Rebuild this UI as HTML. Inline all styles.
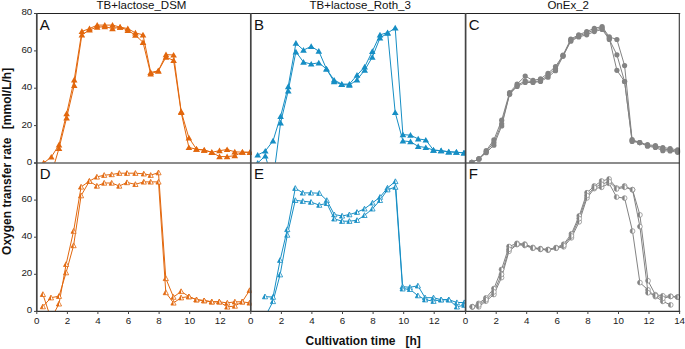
<!DOCTYPE html>
<html><head><meta charset="utf-8"><style>
html,body{margin:0;padding:0;background:#fff;width:685px;height:349px;overflow:hidden}
svg{display:block}
</style></head><body>
<svg width="685" height="349" viewBox="0 0 685 349">
<defs><clipPath id="cp0"><rect x="36.8" y="9.5" width="215.0" height="153.5"/></clipPath><clipPath id="cp1"><rect x="250.8" y="9.5" width="215.0" height="153.5"/></clipPath><clipPath id="cp2"><rect x="465.6" y="9.5" width="215.0" height="153.5"/></clipPath><clipPath id="cp3"><rect x="36.8" y="159.0" width="215.0" height="152.4"/></clipPath><clipPath id="cp4"><rect x="250.8" y="159.0" width="215.0" height="152.4"/></clipPath><clipPath id="cp5"><rect x="465.6" y="159.0" width="215.0" height="152.4"/></clipPath></defs>
<rect width="685" height="349" fill="#fff"/>
<g clip-path="url(#cp0)">
<polyline points="43.7,163.0 51.3,157.0 59.0,144.9 66.6,113.7 74.2,79.8 81.9,31.4 89.5,28.6 97.2,25.1 104.8,25.1 112.5,25.1 120.1,27.1 127.8,28.6 135.4,32.9 143.0,34.8 150.7,72.4 158.3,70.9 166.0,54.6 173.6,55.0 181.2,111.6 188.9,137.8 196.5,149.2 204.2,150.1 211.8,152.3 219.5,150.7 227.1,149.5 234.8,151.8 242.4,152.2 250.0,152.3" fill="none" stroke="#E2670D" stroke-width="1"/>
<polyline points="43.7,163.0 51.3,174.2 59.0,148.4 66.6,117.8 74.2,85.4 81.9,34.8 89.5,29.9 97.2,27.1 104.8,26.6 112.5,28.6 120.1,27.1 127.8,30.3 135.4,35.2 143.0,42.3 150.7,73.9 158.3,70.9 166.0,57.2 173.6,60.4 181.2,112.5 188.9,147.5 196.5,149.2 204.2,150.1 211.8,152.3 219.5,156.6 227.1,156.6 234.8,155.7 242.4,152.2 250.0,152.3" fill="none" stroke="#E2670D" stroke-width="1"/>
<path d="M40.4,165.6L43.7,159.9L47.0,165.6Z" fill="#E2670D"/>
<path d="M48.0,159.6L51.3,153.9L54.6,159.6Z" fill="#E2670D"/>
<path d="M55.7,147.5L59.0,141.8L62.3,147.5Z" fill="#E2670D"/>
<path d="M63.3,116.3L66.6,110.6L69.9,116.3Z" fill="#E2670D"/>
<path d="M71.0,82.4L74.2,76.7L77.5,82.4Z" fill="#E2670D"/>
<path d="M78.6,34.0L81.9,28.3L85.2,34.0Z" fill="#E2670D"/>
<path d="M86.2,31.2L89.5,25.5L92.8,31.2Z" fill="#E2670D"/>
<path d="M93.9,27.7L97.2,22.0L100.5,27.7Z" fill="#E2670D"/>
<path d="M101.5,27.7L104.8,22.0L108.1,27.7Z" fill="#E2670D"/>
<path d="M109.2,27.7L112.5,22.0L115.8,27.7Z" fill="#E2670D"/>
<path d="M116.8,29.7L120.1,24.0L123.4,29.7Z" fill="#E2670D"/>
<path d="M124.5,31.2L127.8,25.5L131.1,31.2Z" fill="#E2670D"/>
<path d="M132.1,35.5L135.4,29.8L138.7,35.5Z" fill="#E2670D"/>
<path d="M139.7,37.4L143.0,31.7L146.3,37.4Z" fill="#E2670D"/>
<path d="M147.4,75.0L150.7,69.3L154.0,75.0Z" fill="#E2670D"/>
<path d="M155.0,73.5L158.3,67.8L161.6,73.5Z" fill="#E2670D"/>
<path d="M162.7,57.2L166.0,51.5L169.3,57.2Z" fill="#E2670D"/>
<path d="M170.3,57.6L173.6,51.9L176.9,57.6Z" fill="#E2670D"/>
<path d="M177.9,114.2L181.2,108.5L184.6,114.2Z" fill="#E2670D"/>
<path d="M185.6,140.4L188.9,134.7L192.2,140.4Z" fill="#E2670D"/>
<path d="M193.2,151.8L196.5,146.1L199.8,151.8Z" fill="#E2670D"/>
<path d="M200.9,152.7L204.2,147.0L207.5,152.7Z" fill="#E2670D"/>
<path d="M208.5,154.9L211.8,149.2L215.1,154.9Z" fill="#E2670D"/>
<path d="M216.2,153.3L219.5,147.6L222.8,153.3Z" fill="#E2670D"/>
<path d="M223.8,152.1L227.1,146.4L230.4,152.1Z" fill="#E2670D"/>
<path d="M231.4,154.4L234.8,148.7L238.1,154.4Z" fill="#E2670D"/>
<path d="M239.1,154.8L242.4,149.1L245.7,154.8Z" fill="#E2670D"/>
<path d="M246.7,154.9L250.0,149.2L253.3,154.9Z" fill="#E2670D"/>
<path d="M40.4,165.6L43.7,159.9L47.0,165.6Z" fill="#E2670D"/>
<path d="M48.0,176.8L51.3,171.1L54.6,176.8Z" fill="#E2670D"/>
<path d="M55.7,151.0L59.0,145.3L62.3,151.0Z" fill="#E2670D"/>
<path d="M63.3,120.4L66.6,114.7L69.9,120.4Z" fill="#E2670D"/>
<path d="M71.0,88.0L74.2,82.3L77.5,88.0Z" fill="#E2670D"/>
<path d="M78.6,37.4L81.9,31.7L85.2,37.4Z" fill="#E2670D"/>
<path d="M86.2,32.5L89.5,26.8L92.8,32.5Z" fill="#E2670D"/>
<path d="M93.9,29.7L97.2,24.0L100.5,29.7Z" fill="#E2670D"/>
<path d="M101.5,29.2L104.8,23.5L108.1,29.2Z" fill="#E2670D"/>
<path d="M109.2,31.2L112.5,25.5L115.8,31.2Z" fill="#E2670D"/>
<path d="M116.8,29.7L120.1,24.0L123.4,29.7Z" fill="#E2670D"/>
<path d="M124.5,32.9L127.8,27.2L131.1,32.9Z" fill="#E2670D"/>
<path d="M132.1,37.8L135.4,32.1L138.7,37.8Z" fill="#E2670D"/>
<path d="M139.7,44.9L143.0,39.2L146.3,44.9Z" fill="#E2670D"/>
<path d="M147.4,76.5L150.7,70.8L154.0,76.5Z" fill="#E2670D"/>
<path d="M155.0,73.5L158.3,67.8L161.6,73.5Z" fill="#E2670D"/>
<path d="M162.7,59.8L166.0,54.1L169.3,59.8Z" fill="#E2670D"/>
<path d="M170.3,63.0L173.6,57.3L176.9,63.0Z" fill="#E2670D"/>
<path d="M177.9,115.1L181.2,109.4L184.6,115.1Z" fill="#E2670D"/>
<path d="M185.6,150.1L188.9,144.4L192.2,150.1Z" fill="#E2670D"/>
<path d="M193.2,151.8L196.5,146.1L199.8,151.8Z" fill="#E2670D"/>
<path d="M200.9,152.7L204.2,147.0L207.5,152.7Z" fill="#E2670D"/>
<path d="M208.5,154.9L211.8,149.2L215.1,154.9Z" fill="#E2670D"/>
<path d="M216.2,159.2L219.5,153.5L222.8,159.2Z" fill="#E2670D"/>
<path d="M223.8,159.2L227.1,153.5L230.4,159.2Z" fill="#E2670D"/>
<path d="M231.4,158.3L234.8,152.6L238.1,158.3Z" fill="#E2670D"/>
<path d="M239.1,154.8L242.4,149.1L245.7,154.8Z" fill="#E2670D"/>
<path d="M246.7,154.9L250.0,149.2L253.3,154.9Z" fill="#E2670D"/>
</g>
<g clip-path="url(#cp1)">
<polyline points="257.7,155.0 265.3,151.0 273.0,140.9 280.6,116.3 288.2,86.6 295.9,43.2 303.5,50.1 311.2,46.4 318.8,51.2 326.5,69.0 334.1,80.0 341.8,84.1 349.4,84.1 357.0,75.2 364.7,66.9 372.3,51.4 380.0,34.8 387.6,32.6 395.2,112.5 402.9,140.9 410.5,141.7 418.2,146.4 425.8,147.5 433.5,150.1 441.1,150.7 448.8,151.8 456.4,152.2 464.0,152.9" fill="none" stroke="#168EC4" stroke-width="1"/>
<polyline points="257.7,163.0 265.3,155.9 273.0,181.3 280.6,122.8 288.2,90.9 295.9,51.8 303.5,62.1 311.2,64.0 318.8,62.8 326.5,69.0 334.1,81.7 341.8,84.5 349.4,85.1 357.0,79.8 364.7,70.1 372.3,57.2 380.0,38.0 387.6,33.1 395.2,27.9 402.9,134.6 410.5,135.2 418.2,138.9 425.8,140.0 433.5,150.1 441.1,150.7 448.8,151.8 456.4,152.2 464.0,152.9" fill="none" stroke="#168EC4" stroke-width="1"/>
<path d="M254.4,157.6L257.7,151.9L261.0,157.6Z" fill="#168EC4"/>
<path d="M262.0,153.6L265.3,147.9L268.6,153.6Z" fill="#168EC4"/>
<path d="M269.7,143.5L273.0,137.8L276.3,143.5Z" fill="#168EC4"/>
<path d="M277.3,118.9L280.6,113.2L283.9,118.9Z" fill="#168EC4"/>
<path d="M284.9,89.2L288.2,83.5L291.6,89.2Z" fill="#168EC4"/>
<path d="M292.6,45.8L295.9,40.1L299.2,45.8Z" fill="#168EC4"/>
<path d="M300.2,52.7L303.5,47.0L306.8,52.7Z" fill="#168EC4"/>
<path d="M307.9,49.0L311.2,43.3L314.5,49.0Z" fill="#168EC4"/>
<path d="M315.5,53.8L318.8,48.1L322.1,53.8Z" fill="#168EC4"/>
<path d="M323.2,71.6L326.5,65.9L329.8,71.6Z" fill="#168EC4"/>
<path d="M330.8,82.6L334.1,76.9L337.4,82.6Z" fill="#168EC4"/>
<path d="M338.4,86.7L341.8,81.0L345.1,86.7Z" fill="#168EC4"/>
<path d="M346.1,86.7L349.4,81.0L352.7,86.7Z" fill="#168EC4"/>
<path d="M353.7,77.8L357.0,72.1L360.3,77.8Z" fill="#168EC4"/>
<path d="M361.4,69.5L364.7,63.8L368.0,69.5Z" fill="#168EC4"/>
<path d="M369.0,54.0L372.3,48.3L375.6,54.0Z" fill="#168EC4"/>
<path d="M376.7,37.4L380.0,31.7L383.3,37.4Z" fill="#168EC4"/>
<path d="M384.3,35.2L387.6,29.5L390.9,35.2Z" fill="#168EC4"/>
<path d="M391.9,115.1L395.2,109.4L398.6,115.1Z" fill="#168EC4"/>
<path d="M399.6,143.5L402.9,137.8L406.2,143.5Z" fill="#168EC4"/>
<path d="M407.2,144.3L410.5,138.6L413.8,144.3Z" fill="#168EC4"/>
<path d="M414.9,149.0L418.2,143.3L421.5,149.0Z" fill="#168EC4"/>
<path d="M422.5,150.1L425.8,144.4L429.1,150.1Z" fill="#168EC4"/>
<path d="M430.2,152.7L433.5,147.0L436.8,152.7Z" fill="#168EC4"/>
<path d="M437.8,153.3L441.1,147.6L444.4,153.3Z" fill="#168EC4"/>
<path d="M445.4,154.4L448.8,148.7L452.1,154.4Z" fill="#168EC4"/>
<path d="M453.1,154.8L456.4,149.1L459.7,154.8Z" fill="#168EC4"/>
<path d="M460.7,155.5L464.0,149.8L467.3,155.5Z" fill="#168EC4"/>
<path d="M254.4,165.6L257.7,159.9L261.0,165.6Z" fill="#168EC4"/>
<path d="M262.0,158.5L265.3,152.8L268.6,158.5Z" fill="#168EC4"/>
<path d="M269.7,183.9L273.0,178.2L276.3,183.9Z" fill="#168EC4"/>
<path d="M277.3,125.4L280.6,119.7L283.9,125.4Z" fill="#168EC4"/>
<path d="M284.9,93.5L288.2,87.8L291.6,93.5Z" fill="#168EC4"/>
<path d="M292.6,54.4L295.9,48.7L299.2,54.4Z" fill="#168EC4"/>
<path d="M300.2,64.7L303.5,59.0L306.8,64.7Z" fill="#168EC4"/>
<path d="M307.9,66.6L311.2,60.9L314.5,66.6Z" fill="#168EC4"/>
<path d="M315.5,65.4L318.8,59.7L322.1,65.4Z" fill="#168EC4"/>
<path d="M323.2,71.6L326.5,65.9L329.8,71.6Z" fill="#168EC4"/>
<path d="M330.8,84.3L334.1,78.6L337.4,84.3Z" fill="#168EC4"/>
<path d="M338.4,87.1L341.8,81.4L345.1,87.1Z" fill="#168EC4"/>
<path d="M346.1,87.7L349.4,82.0L352.7,87.7Z" fill="#168EC4"/>
<path d="M353.7,82.4L357.0,76.7L360.3,82.4Z" fill="#168EC4"/>
<path d="M361.4,72.7L364.7,67.0L368.0,72.7Z" fill="#168EC4"/>
<path d="M369.0,59.8L372.3,54.1L375.6,59.8Z" fill="#168EC4"/>
<path d="M376.7,40.6L380.0,34.9L383.3,40.6Z" fill="#168EC4"/>
<path d="M384.3,35.7L387.6,30.0L390.9,35.7Z" fill="#168EC4"/>
<path d="M391.9,30.5L395.2,24.8L398.6,30.5Z" fill="#168EC4"/>
<path d="M399.6,137.2L402.9,131.5L406.2,137.2Z" fill="#168EC4"/>
<path d="M407.2,137.8L410.5,132.1L413.8,137.8Z" fill="#168EC4"/>
<path d="M414.9,141.5L418.2,135.8L421.5,141.5Z" fill="#168EC4"/>
<path d="M422.5,142.6L425.8,136.9L429.1,142.6Z" fill="#168EC4"/>
<path d="M430.2,152.7L433.5,147.0L436.8,152.7Z" fill="#168EC4"/>
<path d="M437.8,153.3L441.1,147.6L444.4,153.3Z" fill="#168EC4"/>
<path d="M445.4,154.4L448.8,148.7L452.1,154.4Z" fill="#168EC4"/>
<path d="M453.1,154.8L456.4,149.1L459.7,154.8Z" fill="#168EC4"/>
<path d="M460.7,155.5L464.0,149.8L467.3,155.5Z" fill="#168EC4"/>
</g>
<g clip-path="url(#cp2)">
<polyline points="471.7,162.4 478.9,158.9 486.2,150.7 493.9,139.8 501.7,120.2 509.6,92.5 517.1,84.1 525.2,76.1 533.0,80.4 540.5,78.9 548.0,73.3 555.5,66.6 563.0,55.2 570.8,39.1 578.7,34.8 586.7,31.6 594.3,28.3 602.1,26.6 609.3,36.9 616.9,39.5 624.6,65.6 632.1,139.5 639.7,142.6 647.5,144.7 655.4,145.6 662.8,147.5 670.1,148.6 677.6,149.9" fill="none" stroke="#838383" stroke-width="1"/>
<polyline points="471.7,162.4 478.9,158.9 486.2,152.7 493.9,145.2 501.7,126.0 509.6,94.2 517.1,86.4 525.2,82.5 533.0,82.5 540.5,81.5 548.0,77.2 555.5,70.7 563.0,56.3 570.8,41.2 578.7,36.9 586.7,34.8 594.3,31.6 602.1,29.4 609.3,39.5 616.9,54.8 624.6,81.5 632.1,140.6 639.7,142.6 647.5,146.2 655.4,147.5 662.8,150.7 670.1,151.0 677.6,152.3" fill="none" stroke="#838383" stroke-width="1"/>
<polyline points="471.7,162.4 478.9,158.9 486.2,151.8 493.9,142.4 501.7,123.8 509.6,93.9 517.1,85.4 525.2,80.8 533.0,81.7 540.5,80.8 548.0,75.2 555.5,68.6 563.0,55.7 570.8,40.2 578.7,35.9 586.7,33.1 594.3,29.9 602.1,28.1 609.3,38.2 616.9,70.3 624.6,81.5 632.1,141.5 639.7,142.6 647.5,145.4 655.4,146.6 662.8,149.0 670.1,149.9 677.6,151.2" fill="none" stroke="#838383" stroke-width="1"/>
<circle cx="471.7" cy="162.4" r="2.6" fill="#838383"/>
<circle cx="478.9" cy="158.9" r="2.6" fill="#838383"/>
<circle cx="486.2" cy="150.7" r="2.6" fill="#838383"/>
<circle cx="493.9" cy="139.8" r="2.6" fill="#838383"/>
<circle cx="501.7" cy="120.2" r="2.6" fill="#838383"/>
<circle cx="509.6" cy="92.5" r="2.6" fill="#838383"/>
<circle cx="517.1" cy="84.1" r="2.6" fill="#838383"/>
<circle cx="525.2" cy="76.1" r="2.6" fill="#838383"/>
<circle cx="533.0" cy="80.4" r="2.6" fill="#838383"/>
<circle cx="540.5" cy="78.9" r="2.6" fill="#838383"/>
<circle cx="548.0" cy="73.3" r="2.6" fill="#838383"/>
<circle cx="555.5" cy="66.6" r="2.6" fill="#838383"/>
<circle cx="563.0" cy="55.2" r="2.6" fill="#838383"/>
<circle cx="570.8" cy="39.1" r="2.6" fill="#838383"/>
<circle cx="578.7" cy="34.8" r="2.6" fill="#838383"/>
<circle cx="586.7" cy="31.6" r="2.6" fill="#838383"/>
<circle cx="594.3" cy="28.3" r="2.6" fill="#838383"/>
<circle cx="602.1" cy="26.6" r="2.6" fill="#838383"/>
<circle cx="609.3" cy="36.9" r="2.6" fill="#838383"/>
<circle cx="616.9" cy="39.5" r="2.6" fill="#838383"/>
<circle cx="624.6" cy="65.6" r="2.6" fill="#838383"/>
<circle cx="632.1" cy="139.5" r="2.6" fill="#838383"/>
<circle cx="639.7" cy="142.6" r="2.6" fill="#838383"/>
<circle cx="647.5" cy="144.7" r="2.6" fill="#838383"/>
<circle cx="655.4" cy="145.6" r="2.6" fill="#838383"/>
<circle cx="662.8" cy="147.5" r="2.6" fill="#838383"/>
<circle cx="670.1" cy="148.6" r="2.6" fill="#838383"/>
<circle cx="677.6" cy="149.9" r="2.6" fill="#838383"/>
<circle cx="471.7" cy="162.4" r="2.6" fill="#838383"/>
<circle cx="478.9" cy="158.9" r="2.6" fill="#838383"/>
<circle cx="486.2" cy="152.7" r="2.6" fill="#838383"/>
<circle cx="493.9" cy="145.2" r="2.6" fill="#838383"/>
<circle cx="501.7" cy="126.0" r="2.6" fill="#838383"/>
<circle cx="509.6" cy="94.2" r="2.6" fill="#838383"/>
<circle cx="517.1" cy="86.4" r="2.6" fill="#838383"/>
<circle cx="525.2" cy="82.5" r="2.6" fill="#838383"/>
<circle cx="533.0" cy="82.5" r="2.6" fill="#838383"/>
<circle cx="540.5" cy="81.5" r="2.6" fill="#838383"/>
<circle cx="548.0" cy="77.2" r="2.6" fill="#838383"/>
<circle cx="555.5" cy="70.7" r="2.6" fill="#838383"/>
<circle cx="563.0" cy="56.3" r="2.6" fill="#838383"/>
<circle cx="570.8" cy="41.2" r="2.6" fill="#838383"/>
<circle cx="578.7" cy="36.9" r="2.6" fill="#838383"/>
<circle cx="586.7" cy="34.8" r="2.6" fill="#838383"/>
<circle cx="594.3" cy="31.6" r="2.6" fill="#838383"/>
<circle cx="602.1" cy="29.4" r="2.6" fill="#838383"/>
<circle cx="609.3" cy="39.5" r="2.6" fill="#838383"/>
<circle cx="616.9" cy="54.8" r="2.6" fill="#838383"/>
<circle cx="624.6" cy="81.5" r="2.6" fill="#838383"/>
<circle cx="632.1" cy="140.6" r="2.6" fill="#838383"/>
<circle cx="639.7" cy="142.6" r="2.6" fill="#838383"/>
<circle cx="647.5" cy="146.2" r="2.6" fill="#838383"/>
<circle cx="655.4" cy="147.5" r="2.6" fill="#838383"/>
<circle cx="662.8" cy="150.7" r="2.6" fill="#838383"/>
<circle cx="670.1" cy="151.0" r="2.6" fill="#838383"/>
<circle cx="677.6" cy="152.3" r="2.6" fill="#838383"/>
<circle cx="471.7" cy="162.4" r="2.6" fill="#838383"/>
<circle cx="478.9" cy="158.9" r="2.6" fill="#838383"/>
<circle cx="486.2" cy="151.8" r="2.6" fill="#838383"/>
<circle cx="493.9" cy="142.4" r="2.6" fill="#838383"/>
<circle cx="501.7" cy="123.8" r="2.6" fill="#838383"/>
<circle cx="509.6" cy="93.9" r="2.6" fill="#838383"/>
<circle cx="517.1" cy="85.4" r="2.6" fill="#838383"/>
<circle cx="525.2" cy="80.8" r="2.6" fill="#838383"/>
<circle cx="533.0" cy="81.7" r="2.6" fill="#838383"/>
<circle cx="540.5" cy="80.8" r="2.6" fill="#838383"/>
<circle cx="548.0" cy="75.2" r="2.6" fill="#838383"/>
<circle cx="555.5" cy="68.6" r="2.6" fill="#838383"/>
<circle cx="563.0" cy="55.7" r="2.6" fill="#838383"/>
<circle cx="570.8" cy="40.2" r="2.6" fill="#838383"/>
<circle cx="578.7" cy="35.9" r="2.6" fill="#838383"/>
<circle cx="586.7" cy="33.1" r="2.6" fill="#838383"/>
<circle cx="594.3" cy="29.9" r="2.6" fill="#838383"/>
<circle cx="602.1" cy="28.1" r="2.6" fill="#838383"/>
<circle cx="609.3" cy="38.2" r="2.6" fill="#838383"/>
<circle cx="616.9" cy="70.3" r="2.6" fill="#838383"/>
<circle cx="624.6" cy="81.5" r="2.6" fill="#838383"/>
<circle cx="632.1" cy="141.5" r="2.6" fill="#838383"/>
<circle cx="639.7" cy="142.6" r="2.6" fill="#838383"/>
<circle cx="647.5" cy="145.4" r="2.6" fill="#838383"/>
<circle cx="655.4" cy="146.6" r="2.6" fill="#838383"/>
<circle cx="662.8" cy="149.0" r="2.6" fill="#838383"/>
<circle cx="670.1" cy="149.9" r="2.6" fill="#838383"/>
<circle cx="677.6" cy="151.2" r="2.6" fill="#838383"/>
</g>
<g clip-path="url(#cp3)">
<polyline points="42.9,294.3 51.0,318.8 59.0,303.8 66.1,264.3 73.6,231.1 81.1,186.9 89.4,181.2 96.9,176.9 104.2,175.2 111.7,174.5 119.3,173.2 127.0,173.2 135.4,173.2 143.8,173.8 150.7,175.2 158.5,172.6 165.8,278.4 173.5,297.1 181.1,291.4 188.9,296.6 196.5,299.7 204.2,300.6 211.8,301.8 219.3,301.8 227.3,302.9 234.9,301.8 242.2,301.8 249.6,290.4" fill="none" stroke="#E2670D" stroke-width="1"/>
<polyline points="42.9,306.6 51.0,297.7 59.0,296.2 66.1,272.6 73.6,245.5 81.1,195.6 89.4,181.2 96.9,186.0 104.2,183.0 111.7,183.0 119.3,186.0 127.0,182.5 135.4,184.3 143.8,181.9 150.7,181.9 158.5,181.9 165.8,292.5 173.5,302.9 181.1,297.7 188.9,296.6 196.5,299.7 204.2,300.6 211.8,301.8 219.3,301.8 227.3,306.9 234.9,306.0 242.2,301.8 249.6,302.9" fill="none" stroke="#E2670D" stroke-width="1"/>
<path d="M40.3,296.5L42.9,291.7L45.5,296.5Z" fill="#fff" stroke="#E2670D" stroke-width="0.8"/><path d="M40.3,296.5L42.9,291.7L42.9,296.5Z" fill="#E2670D"/>
<path d="M48.4,321.0L51.0,316.2L53.6,321.0Z" fill="#fff" stroke="#E2670D" stroke-width="0.8"/><path d="M48.4,321.0L51.0,316.2L51.0,321.0Z" fill="#E2670D"/>
<path d="M56.4,306.0L59.0,301.2L61.6,306.0Z" fill="#fff" stroke="#E2670D" stroke-width="0.8"/><path d="M56.4,306.0L59.0,301.2L59.0,306.0Z" fill="#E2670D"/>
<path d="M63.5,266.5L66.1,261.7L68.7,266.5Z" fill="#fff" stroke="#E2670D" stroke-width="0.8"/><path d="M63.5,266.5L66.1,261.7L66.1,266.5Z" fill="#E2670D"/>
<path d="M71.0,233.3L73.6,228.5L76.2,233.3Z" fill="#fff" stroke="#E2670D" stroke-width="0.8"/><path d="M71.0,233.3L73.6,228.5L73.6,233.3Z" fill="#E2670D"/>
<path d="M78.5,189.1L81.1,184.3L83.7,189.1Z" fill="#fff" stroke="#E2670D" stroke-width="0.8"/><path d="M78.5,189.1L81.1,184.3L81.1,189.1Z" fill="#E2670D"/>
<path d="M86.8,183.4L89.4,178.6L92.0,183.4Z" fill="#fff" stroke="#E2670D" stroke-width="0.8"/><path d="M86.8,183.4L89.4,178.6L89.4,183.4Z" fill="#E2670D"/>
<path d="M94.3,179.1L96.9,174.3L99.5,179.1Z" fill="#fff" stroke="#E2670D" stroke-width="0.8"/><path d="M94.3,179.1L96.9,174.3L96.9,179.1Z" fill="#E2670D"/>
<path d="M101.6,177.4L104.2,172.6L106.8,177.4Z" fill="#fff" stroke="#E2670D" stroke-width="0.8"/><path d="M101.6,177.4L104.2,172.6L104.2,177.4Z" fill="#E2670D"/>
<path d="M109.1,176.7L111.7,171.9L114.3,176.7Z" fill="#fff" stroke="#E2670D" stroke-width="0.8"/><path d="M109.1,176.7L111.7,171.9L111.7,176.7Z" fill="#E2670D"/>
<path d="M116.7,175.4L119.3,170.6L121.9,175.4Z" fill="#fff" stroke="#E2670D" stroke-width="0.8"/><path d="M116.7,175.4L119.3,170.6L119.3,175.4Z" fill="#E2670D"/>
<path d="M124.4,175.4L127.0,170.6L129.6,175.4Z" fill="#fff" stroke="#E2670D" stroke-width="0.8"/><path d="M124.4,175.4L127.0,170.6L127.0,175.4Z" fill="#E2670D"/>
<path d="M132.8,175.4L135.4,170.6L138.0,175.4Z" fill="#fff" stroke="#E2670D" stroke-width="0.8"/><path d="M132.8,175.4L135.4,170.6L135.4,175.4Z" fill="#E2670D"/>
<path d="M141.2,176.0L143.8,171.2L146.4,176.0Z" fill="#fff" stroke="#E2670D" stroke-width="0.8"/><path d="M141.2,176.0L143.8,171.2L143.8,176.0Z" fill="#E2670D"/>
<path d="M148.1,177.4L150.7,172.6L153.3,177.4Z" fill="#fff" stroke="#E2670D" stroke-width="0.8"/><path d="M148.1,177.4L150.7,172.6L150.7,177.4Z" fill="#E2670D"/>
<path d="M155.9,174.8L158.5,170.0L161.1,174.8Z" fill="#fff" stroke="#E2670D" stroke-width="0.8"/><path d="M155.9,174.8L158.5,170.0L158.5,174.8Z" fill="#E2670D"/>
<path d="M163.2,280.6L165.8,275.8L168.4,280.6Z" fill="#fff" stroke="#E2670D" stroke-width="0.8"/><path d="M163.2,280.6L165.8,275.8L165.8,280.6Z" fill="#E2670D"/>
<path d="M170.9,299.3L173.5,294.5L176.1,299.3Z" fill="#fff" stroke="#E2670D" stroke-width="0.8"/><path d="M170.9,299.3L173.5,294.5L173.5,299.3Z" fill="#E2670D"/>
<path d="M178.5,293.6L181.1,288.8L183.7,293.6Z" fill="#fff" stroke="#E2670D" stroke-width="0.8"/><path d="M178.5,293.6L181.1,288.8L181.1,293.6Z" fill="#E2670D"/>
<path d="M186.3,298.8L188.9,294.0L191.5,298.8Z" fill="#fff" stroke="#E2670D" stroke-width="0.8"/><path d="M186.3,298.8L188.9,294.0L188.9,298.8Z" fill="#E2670D"/>
<path d="M193.9,301.9L196.5,297.1L199.1,301.9Z" fill="#fff" stroke="#E2670D" stroke-width="0.8"/><path d="M193.9,301.9L196.5,297.1L196.5,301.9Z" fill="#E2670D"/>
<path d="M201.6,302.8L204.2,298.0L206.8,302.8Z" fill="#fff" stroke="#E2670D" stroke-width="0.8"/><path d="M201.6,302.8L204.2,298.0L204.2,302.8Z" fill="#E2670D"/>
<path d="M209.2,304.0L211.8,299.2L214.4,304.0Z" fill="#fff" stroke="#E2670D" stroke-width="0.8"/><path d="M209.2,304.0L211.8,299.2L211.8,304.0Z" fill="#E2670D"/>
<path d="M216.7,304.0L219.3,299.2L221.9,304.0Z" fill="#fff" stroke="#E2670D" stroke-width="0.8"/><path d="M216.7,304.0L219.3,299.2L219.3,304.0Z" fill="#E2670D"/>
<path d="M224.7,305.1L227.3,300.3L229.9,305.1Z" fill="#fff" stroke="#E2670D" stroke-width="0.8"/><path d="M224.7,305.1L227.3,300.3L227.3,305.1Z" fill="#E2670D"/>
<path d="M232.3,304.0L234.9,299.2L237.5,304.0Z" fill="#fff" stroke="#E2670D" stroke-width="0.8"/><path d="M232.3,304.0L234.9,299.2L234.9,304.0Z" fill="#E2670D"/>
<path d="M239.6,304.0L242.2,299.2L244.8,304.0Z" fill="#fff" stroke="#E2670D" stroke-width="0.8"/><path d="M239.6,304.0L242.2,299.2L242.2,304.0Z" fill="#E2670D"/>
<path d="M247.0,292.6L249.6,287.8L252.2,292.6Z" fill="#fff" stroke="#E2670D" stroke-width="0.8"/><path d="M247.0,292.6L249.6,287.8L249.6,292.6Z" fill="#E2670D"/>
<path d="M40.3,308.8L42.9,304.0L45.5,308.8Z" fill="#fff" stroke="#E2670D" stroke-width="0.8"/><path d="M40.3,308.8L42.9,304.0L42.9,308.8Z" fill="#E2670D"/>
<path d="M48.4,299.9L51.0,295.1L53.6,299.9Z" fill="#fff" stroke="#E2670D" stroke-width="0.8"/><path d="M48.4,299.9L51.0,295.1L51.0,299.9Z" fill="#E2670D"/>
<path d="M56.4,298.4L59.0,293.6L61.6,298.4Z" fill="#fff" stroke="#E2670D" stroke-width="0.8"/><path d="M56.4,298.4L59.0,293.6L59.0,298.4Z" fill="#E2670D"/>
<path d="M63.5,274.8L66.1,270.0L68.7,274.8Z" fill="#fff" stroke="#E2670D" stroke-width="0.8"/><path d="M63.5,274.8L66.1,270.0L66.1,274.8Z" fill="#E2670D"/>
<path d="M71.0,247.7L73.6,242.9L76.2,247.7Z" fill="#fff" stroke="#E2670D" stroke-width="0.8"/><path d="M71.0,247.7L73.6,242.9L73.6,247.7Z" fill="#E2670D"/>
<path d="M78.5,197.8L81.1,193.0L83.7,197.8Z" fill="#fff" stroke="#E2670D" stroke-width="0.8"/><path d="M78.5,197.8L81.1,193.0L81.1,197.8Z" fill="#E2670D"/>
<path d="M86.8,183.4L89.4,178.6L92.0,183.4Z" fill="#fff" stroke="#E2670D" stroke-width="0.8"/><path d="M86.8,183.4L89.4,178.6L89.4,183.4Z" fill="#E2670D"/>
<path d="M94.3,188.2L96.9,183.4L99.5,188.2Z" fill="#fff" stroke="#E2670D" stroke-width="0.8"/><path d="M94.3,188.2L96.9,183.4L96.9,188.2Z" fill="#E2670D"/>
<path d="M101.6,185.2L104.2,180.4L106.8,185.2Z" fill="#fff" stroke="#E2670D" stroke-width="0.8"/><path d="M101.6,185.2L104.2,180.4L104.2,185.2Z" fill="#E2670D"/>
<path d="M109.1,185.2L111.7,180.4L114.3,185.2Z" fill="#fff" stroke="#E2670D" stroke-width="0.8"/><path d="M109.1,185.2L111.7,180.4L111.7,185.2Z" fill="#E2670D"/>
<path d="M116.7,188.2L119.3,183.4L121.9,188.2Z" fill="#fff" stroke="#E2670D" stroke-width="0.8"/><path d="M116.7,188.2L119.3,183.4L119.3,188.2Z" fill="#E2670D"/>
<path d="M124.4,184.7L127.0,179.9L129.6,184.7Z" fill="#fff" stroke="#E2670D" stroke-width="0.8"/><path d="M124.4,184.7L127.0,179.9L127.0,184.7Z" fill="#E2670D"/>
<path d="M132.8,186.5L135.4,181.7L138.0,186.5Z" fill="#fff" stroke="#E2670D" stroke-width="0.8"/><path d="M132.8,186.5L135.4,181.7L135.4,186.5Z" fill="#E2670D"/>
<path d="M141.2,184.1L143.8,179.3L146.4,184.1Z" fill="#fff" stroke="#E2670D" stroke-width="0.8"/><path d="M141.2,184.1L143.8,179.3L143.8,184.1Z" fill="#E2670D"/>
<path d="M148.1,184.1L150.7,179.3L153.3,184.1Z" fill="#fff" stroke="#E2670D" stroke-width="0.8"/><path d="M148.1,184.1L150.7,179.3L150.7,184.1Z" fill="#E2670D"/>
<path d="M155.9,184.1L158.5,179.3L161.1,184.1Z" fill="#fff" stroke="#E2670D" stroke-width="0.8"/><path d="M155.9,184.1L158.5,179.3L158.5,184.1Z" fill="#E2670D"/>
<path d="M163.2,294.7L165.8,289.9L168.4,294.7Z" fill="#fff" stroke="#E2670D" stroke-width="0.8"/><path d="M163.2,294.7L165.8,289.9L165.8,294.7Z" fill="#E2670D"/>
<path d="M170.9,305.1L173.5,300.3L176.1,305.1Z" fill="#fff" stroke="#E2670D" stroke-width="0.8"/><path d="M170.9,305.1L173.5,300.3L173.5,305.1Z" fill="#E2670D"/>
<path d="M178.5,299.9L181.1,295.1L183.7,299.9Z" fill="#fff" stroke="#E2670D" stroke-width="0.8"/><path d="M178.5,299.9L181.1,295.1L181.1,299.9Z" fill="#E2670D"/>
<path d="M186.3,298.8L188.9,294.0L191.5,298.8Z" fill="#fff" stroke="#E2670D" stroke-width="0.8"/><path d="M186.3,298.8L188.9,294.0L188.9,298.8Z" fill="#E2670D"/>
<path d="M193.9,301.9L196.5,297.1L199.1,301.9Z" fill="#fff" stroke="#E2670D" stroke-width="0.8"/><path d="M193.9,301.9L196.5,297.1L196.5,301.9Z" fill="#E2670D"/>
<path d="M201.6,302.8L204.2,298.0L206.8,302.8Z" fill="#fff" stroke="#E2670D" stroke-width="0.8"/><path d="M201.6,302.8L204.2,298.0L204.2,302.8Z" fill="#E2670D"/>
<path d="M209.2,304.0L211.8,299.2L214.4,304.0Z" fill="#fff" stroke="#E2670D" stroke-width="0.8"/><path d="M209.2,304.0L211.8,299.2L211.8,304.0Z" fill="#E2670D"/>
<path d="M216.7,304.0L219.3,299.2L221.9,304.0Z" fill="#fff" stroke="#E2670D" stroke-width="0.8"/><path d="M216.7,304.0L219.3,299.2L219.3,304.0Z" fill="#E2670D"/>
<path d="M224.7,309.1L227.3,304.3L229.9,309.1Z" fill="#fff" stroke="#E2670D" stroke-width="0.8"/><path d="M224.7,309.1L227.3,304.3L227.3,309.1Z" fill="#E2670D"/>
<path d="M232.3,308.2L234.9,303.4L237.5,308.2Z" fill="#fff" stroke="#E2670D" stroke-width="0.8"/><path d="M232.3,308.2L234.9,303.4L234.9,308.2Z" fill="#E2670D"/>
<path d="M239.6,304.0L242.2,299.2L244.8,304.0Z" fill="#fff" stroke="#E2670D" stroke-width="0.8"/><path d="M239.6,304.0L242.2,299.2L242.2,304.0Z" fill="#E2670D"/>
<path d="M247.0,305.1L249.6,300.3L252.2,305.1Z" fill="#fff" stroke="#E2670D" stroke-width="0.8"/><path d="M247.0,305.1L249.6,300.3L249.6,305.1Z" fill="#E2670D"/>
</g>
<g clip-path="url(#cp4)">
<polyline points="265.0,296.6 273.0,297.1 280.1,260.2 287.3,229.4 295.3,188.2 302.8,192.9 311.0,192.9 319.3,193.2 326.8,200.3 334.3,214.6 342.1,215.9 349.4,214.6 357.0,212.2 364.5,208.8 372.5,202.9 380.0,197.1 387.5,187.9 395.4,181.4 402.6,286.7 409.9,287.3 417.9,285.8 425.1,297.7 433.5,297.7 441.1,299.7 448.8,299.7 456.9,302.5 464.3,302.5" fill="none" stroke="#168EC4" stroke-width="1"/>
<polyline points="265.0,317.0 273.0,301.4 280.1,274.7 287.3,235.0 295.3,200.3 302.8,201.2 311.0,202.1 319.3,205.1 326.8,203.3 334.3,218.8 342.1,221.2 349.4,221.2 357.0,220.3 364.5,215.3 372.5,208.8 380.0,200.3 387.5,189.7 395.4,187.1 402.6,288.8 409.9,289.3 417.9,295.6 425.1,299.7 433.5,301.2 441.1,299.7 448.8,299.7 456.9,306.8 464.3,305.1" fill="none" stroke="#168EC4" stroke-width="1"/>
<path d="M262.4,298.8L265.0,294.0L267.6,298.8Z" fill="#fff" stroke="#168EC4" stroke-width="0.8"/><path d="M262.4,298.8L265.0,294.0L265.0,298.8Z" fill="#168EC4"/>
<path d="M270.4,299.3L273.0,294.5L275.6,299.3Z" fill="#fff" stroke="#168EC4" stroke-width="0.8"/><path d="M270.4,299.3L273.0,294.5L273.0,299.3Z" fill="#168EC4"/>
<path d="M277.5,262.4L280.1,257.6L282.7,262.4Z" fill="#fff" stroke="#168EC4" stroke-width="0.8"/><path d="M277.5,262.4L280.1,257.6L280.1,262.4Z" fill="#168EC4"/>
<path d="M284.7,231.6L287.3,226.8L289.9,231.6Z" fill="#fff" stroke="#168EC4" stroke-width="0.8"/><path d="M284.7,231.6L287.3,226.8L287.3,231.6Z" fill="#168EC4"/>
<path d="M292.7,190.4L295.3,185.6L297.9,190.4Z" fill="#fff" stroke="#168EC4" stroke-width="0.8"/><path d="M292.7,190.4L295.3,185.6L295.3,190.4Z" fill="#168EC4"/>
<path d="M300.2,195.1L302.8,190.3L305.4,195.1Z" fill="#fff" stroke="#168EC4" stroke-width="0.8"/><path d="M300.2,195.1L302.8,190.3L302.8,195.1Z" fill="#168EC4"/>
<path d="M308.4,195.1L311.0,190.3L313.6,195.1Z" fill="#fff" stroke="#168EC4" stroke-width="0.8"/><path d="M308.4,195.1L311.0,190.3L311.0,195.1Z" fill="#168EC4"/>
<path d="M316.7,195.4L319.3,190.6L321.9,195.4Z" fill="#fff" stroke="#168EC4" stroke-width="0.8"/><path d="M316.7,195.4L319.3,190.6L319.3,195.4Z" fill="#168EC4"/>
<path d="M324.2,202.5L326.8,197.7L329.4,202.5Z" fill="#fff" stroke="#168EC4" stroke-width="0.8"/><path d="M324.2,202.5L326.8,197.7L326.8,202.5Z" fill="#168EC4"/>
<path d="M331.7,216.8L334.3,212.0L336.9,216.8Z" fill="#fff" stroke="#168EC4" stroke-width="0.8"/><path d="M331.7,216.8L334.3,212.0L334.3,216.8Z" fill="#168EC4"/>
<path d="M339.5,218.1L342.1,213.3L344.7,218.1Z" fill="#fff" stroke="#168EC4" stroke-width="0.8"/><path d="M339.5,218.1L342.1,213.3L342.1,218.1Z" fill="#168EC4"/>
<path d="M346.8,216.8L349.4,212.0L352.0,216.8Z" fill="#fff" stroke="#168EC4" stroke-width="0.8"/><path d="M346.8,216.8L349.4,212.0L349.4,216.8Z" fill="#168EC4"/>
<path d="M354.4,214.4L357.0,209.6L359.6,214.4Z" fill="#fff" stroke="#168EC4" stroke-width="0.8"/><path d="M354.4,214.4L357.0,209.6L357.0,214.4Z" fill="#168EC4"/>
<path d="M361.9,211.0L364.5,206.2L367.1,211.0Z" fill="#fff" stroke="#168EC4" stroke-width="0.8"/><path d="M361.9,211.0L364.5,206.2L364.5,211.0Z" fill="#168EC4"/>
<path d="M369.9,205.1L372.5,200.3L375.1,205.1Z" fill="#fff" stroke="#168EC4" stroke-width="0.8"/><path d="M369.9,205.1L372.5,200.3L372.5,205.1Z" fill="#168EC4"/>
<path d="M377.4,199.3L380.0,194.5L382.6,199.3Z" fill="#fff" stroke="#168EC4" stroke-width="0.8"/><path d="M377.4,199.3L380.0,194.5L380.0,199.3Z" fill="#168EC4"/>
<path d="M384.9,190.1L387.5,185.3L390.1,190.1Z" fill="#fff" stroke="#168EC4" stroke-width="0.8"/><path d="M384.9,190.1L387.5,185.3L387.5,190.1Z" fill="#168EC4"/>
<path d="M392.8,183.6L395.4,178.8L398.0,183.6Z" fill="#fff" stroke="#168EC4" stroke-width="0.8"/><path d="M392.8,183.6L395.4,178.8L395.4,183.6Z" fill="#168EC4"/>
<path d="M400.0,288.9L402.6,284.1L405.2,288.9Z" fill="#fff" stroke="#168EC4" stroke-width="0.8"/><path d="M400.0,288.9L402.6,284.1L402.6,288.9Z" fill="#168EC4"/>
<path d="M407.3,289.5L409.9,284.7L412.5,289.5Z" fill="#fff" stroke="#168EC4" stroke-width="0.8"/><path d="M407.3,289.5L409.9,284.7L409.9,289.5Z" fill="#168EC4"/>
<path d="M415.3,288.0L417.9,283.2L420.5,288.0Z" fill="#fff" stroke="#168EC4" stroke-width="0.8"/><path d="M415.3,288.0L417.9,283.2L417.9,288.0Z" fill="#168EC4"/>
<path d="M422.5,299.9L425.1,295.1L427.7,299.9Z" fill="#fff" stroke="#168EC4" stroke-width="0.8"/><path d="M422.5,299.9L425.1,295.1L425.1,299.9Z" fill="#168EC4"/>
<path d="M430.9,299.9L433.5,295.1L436.1,299.9Z" fill="#fff" stroke="#168EC4" stroke-width="0.8"/><path d="M430.9,299.9L433.5,295.1L433.5,299.9Z" fill="#168EC4"/>
<path d="M438.5,301.9L441.1,297.1L443.7,301.9Z" fill="#fff" stroke="#168EC4" stroke-width="0.8"/><path d="M438.5,301.9L441.1,297.1L441.1,301.9Z" fill="#168EC4"/>
<path d="M446.1,301.9L448.8,297.1L451.4,301.9Z" fill="#fff" stroke="#168EC4" stroke-width="0.8"/><path d="M446.1,301.9L448.8,297.1L448.8,301.9Z" fill="#168EC4"/>
<path d="M454.3,304.7L456.9,299.9L459.5,304.7Z" fill="#fff" stroke="#168EC4" stroke-width="0.8"/><path d="M454.3,304.7L456.9,299.9L456.9,304.7Z" fill="#168EC4"/>
<path d="M461.7,304.7L464.3,299.9L466.9,304.7Z" fill="#fff" stroke="#168EC4" stroke-width="0.8"/><path d="M461.7,304.7L464.3,299.9L464.3,304.7Z" fill="#168EC4"/>
<path d="M262.4,319.2L265.0,314.4L267.6,319.2Z" fill="#fff" stroke="#168EC4" stroke-width="0.8"/><path d="M262.4,319.2L265.0,314.4L265.0,319.2Z" fill="#168EC4"/>
<path d="M270.4,303.6L273.0,298.8L275.6,303.6Z" fill="#fff" stroke="#168EC4" stroke-width="0.8"/><path d="M270.4,303.6L273.0,298.8L273.0,303.6Z" fill="#168EC4"/>
<path d="M277.5,276.9L280.1,272.1L282.7,276.9Z" fill="#fff" stroke="#168EC4" stroke-width="0.8"/><path d="M277.5,276.9L280.1,272.1L280.1,276.9Z" fill="#168EC4"/>
<path d="M284.7,237.2L287.3,232.4L289.9,237.2Z" fill="#fff" stroke="#168EC4" stroke-width="0.8"/><path d="M284.7,237.2L287.3,232.4L287.3,237.2Z" fill="#168EC4"/>
<path d="M292.7,202.5L295.3,197.7L297.9,202.5Z" fill="#fff" stroke="#168EC4" stroke-width="0.8"/><path d="M292.7,202.5L295.3,197.7L295.3,202.5Z" fill="#168EC4"/>
<path d="M300.2,203.4L302.8,198.6L305.4,203.4Z" fill="#fff" stroke="#168EC4" stroke-width="0.8"/><path d="M300.2,203.4L302.8,198.6L302.8,203.4Z" fill="#168EC4"/>
<path d="M308.4,204.3L311.0,199.5L313.6,204.3Z" fill="#fff" stroke="#168EC4" stroke-width="0.8"/><path d="M308.4,204.3L311.0,199.5L311.0,204.3Z" fill="#168EC4"/>
<path d="M316.7,207.3L319.3,202.5L321.9,207.3Z" fill="#fff" stroke="#168EC4" stroke-width="0.8"/><path d="M316.7,207.3L319.3,202.5L319.3,207.3Z" fill="#168EC4"/>
<path d="M324.2,205.5L326.8,200.7L329.4,205.5Z" fill="#fff" stroke="#168EC4" stroke-width="0.8"/><path d="M324.2,205.5L326.8,200.7L326.8,205.5Z" fill="#168EC4"/>
<path d="M331.7,221.0L334.3,216.2L336.9,221.0Z" fill="#fff" stroke="#168EC4" stroke-width="0.8"/><path d="M331.7,221.0L334.3,216.2L334.3,221.0Z" fill="#168EC4"/>
<path d="M339.5,223.4L342.1,218.6L344.7,223.4Z" fill="#fff" stroke="#168EC4" stroke-width="0.8"/><path d="M339.5,223.4L342.1,218.6L342.1,223.4Z" fill="#168EC4"/>
<path d="M346.8,223.4L349.4,218.6L352.0,223.4Z" fill="#fff" stroke="#168EC4" stroke-width="0.8"/><path d="M346.8,223.4L349.4,218.6L349.4,223.4Z" fill="#168EC4"/>
<path d="M354.4,222.5L357.0,217.7L359.6,222.5Z" fill="#fff" stroke="#168EC4" stroke-width="0.8"/><path d="M354.4,222.5L357.0,217.7L357.0,222.5Z" fill="#168EC4"/>
<path d="M361.9,217.5L364.5,212.7L367.1,217.5Z" fill="#fff" stroke="#168EC4" stroke-width="0.8"/><path d="M361.9,217.5L364.5,212.7L364.5,217.5Z" fill="#168EC4"/>
<path d="M369.9,211.0L372.5,206.2L375.1,211.0Z" fill="#fff" stroke="#168EC4" stroke-width="0.8"/><path d="M369.9,211.0L372.5,206.2L372.5,211.0Z" fill="#168EC4"/>
<path d="M377.4,202.5L380.0,197.7L382.6,202.5Z" fill="#fff" stroke="#168EC4" stroke-width="0.8"/><path d="M377.4,202.5L380.0,197.7L380.0,202.5Z" fill="#168EC4"/>
<path d="M384.9,191.9L387.5,187.1L390.1,191.9Z" fill="#fff" stroke="#168EC4" stroke-width="0.8"/><path d="M384.9,191.9L387.5,187.1L387.5,191.9Z" fill="#168EC4"/>
<path d="M392.8,189.3L395.4,184.5L398.0,189.3Z" fill="#fff" stroke="#168EC4" stroke-width="0.8"/><path d="M392.8,189.3L395.4,184.5L395.4,189.3Z" fill="#168EC4"/>
<path d="M400.0,291.0L402.6,286.2L405.2,291.0Z" fill="#fff" stroke="#168EC4" stroke-width="0.8"/><path d="M400.0,291.0L402.6,286.2L402.6,291.0Z" fill="#168EC4"/>
<path d="M407.3,291.5L409.9,286.7L412.5,291.5Z" fill="#fff" stroke="#168EC4" stroke-width="0.8"/><path d="M407.3,291.5L409.9,286.7L409.9,291.5Z" fill="#168EC4"/>
<path d="M415.3,297.8L417.9,293.0L420.5,297.8Z" fill="#fff" stroke="#168EC4" stroke-width="0.8"/><path d="M415.3,297.8L417.9,293.0L417.9,297.8Z" fill="#168EC4"/>
<path d="M422.5,301.9L425.1,297.1L427.7,301.9Z" fill="#fff" stroke="#168EC4" stroke-width="0.8"/><path d="M422.5,301.9L425.1,297.1L425.1,301.9Z" fill="#168EC4"/>
<path d="M430.9,303.4L433.5,298.6L436.1,303.4Z" fill="#fff" stroke="#168EC4" stroke-width="0.8"/><path d="M430.9,303.4L433.5,298.6L433.5,303.4Z" fill="#168EC4"/>
<path d="M438.5,301.9L441.1,297.1L443.7,301.9Z" fill="#fff" stroke="#168EC4" stroke-width="0.8"/><path d="M438.5,301.9L441.1,297.1L441.1,301.9Z" fill="#168EC4"/>
<path d="M446.1,301.9L448.8,297.1L451.4,301.9Z" fill="#fff" stroke="#168EC4" stroke-width="0.8"/><path d="M446.1,301.9L448.8,297.1L448.8,301.9Z" fill="#168EC4"/>
<path d="M454.3,309.0L456.9,304.2L459.5,309.0Z" fill="#fff" stroke="#168EC4" stroke-width="0.8"/><path d="M454.3,309.0L456.9,304.2L456.9,309.0Z" fill="#168EC4"/>
<path d="M461.7,307.3L464.3,302.5L466.9,307.3Z" fill="#fff" stroke="#168EC4" stroke-width="0.8"/><path d="M461.7,307.3L464.3,302.5L464.3,307.3Z" fill="#168EC4"/>
</g>
<g clip-path="url(#cp5)">
<polyline points="472.3,306.8 478.7,303.4 485.9,298.0 493.9,288.6 501.5,269.5 509.0,246.5 517.0,243.3 524.8,244.1 532.9,247.4 540.5,248.7 548.1,249.4 556.1,247.6 563.7,244.2 571.4,233.9 579.2,215.9 587.0,192.7 594.3,186.0 601.6,181.0 609.1,179.0 616.6,188.0 624.6,186.0 632.5,189.7 639.9,214.9 648.0,280.8 655.4,294.7 662.8,295.8 670.7,296.4 677.6,297.1" fill="none" stroke="#838383" stroke-width="1"/>
<polyline points="472.3,306.8 478.7,306.8 485.9,301.2 493.9,294.5 501.5,277.6 509.0,251.3 517.0,244.6 524.8,245.5 532.9,248.3 540.5,249.4 548.1,250.2 556.1,248.3 563.7,246.8 571.4,237.8 579.2,221.8 587.0,197.9 594.3,188.6 601.6,187.3 609.1,183.4 616.6,197.1 624.6,198.1 632.5,231.1 639.9,282.6 648.0,289.9 655.4,296.6 662.8,301.4 670.7,304.9" fill="none" stroke="#838383" stroke-width="1"/>
<polyline points="472.3,306.8 478.7,304.9 485.9,299.7 493.9,291.9 501.5,274.3 509.0,249.3 517.0,244.1 524.8,244.6 532.9,248.0 540.5,249.1 548.1,249.8 556.1,248.0 563.7,245.5 571.4,235.9 579.2,218.6 587.0,195.5 594.3,187.5 601.6,184.3 609.1,181.6 616.6,189.0 624.6,187.3 632.5,189.7 639.9,226.6 648.0,292.8 655.4,295.6 662.8,298.4 670.7,296.4 677.6,297.1" fill="none" stroke="#838383" stroke-width="1"/>
<circle cx="472.3" cy="306.8" r="2.4" fill="#fff" stroke="#838383" stroke-width="0.7"/><path d="M472.3,304.4A2.4,2.4 0 0 0 472.3,309.2Z" fill="#838383"/>
<circle cx="478.7" cy="303.4" r="2.4" fill="#fff" stroke="#838383" stroke-width="0.7"/><path d="M478.7,301.0A2.4,2.4 0 0 0 478.7,305.8Z" fill="#838383"/>
<circle cx="485.9" cy="298.0" r="2.4" fill="#fff" stroke="#838383" stroke-width="0.7"/><path d="M485.9,295.6A2.4,2.4 0 0 0 485.9,300.4Z" fill="#838383"/>
<circle cx="493.9" cy="288.6" r="2.4" fill="#fff" stroke="#838383" stroke-width="0.7"/><path d="M493.9,286.2A2.4,2.4 0 0 0 493.9,291.0Z" fill="#838383"/>
<circle cx="501.5" cy="269.5" r="2.4" fill="#fff" stroke="#838383" stroke-width="0.7"/><path d="M501.5,267.1A2.4,2.4 0 0 0 501.5,271.9Z" fill="#838383"/>
<circle cx="509.0" cy="246.5" r="2.4" fill="#fff" stroke="#838383" stroke-width="0.7"/><path d="M509.0,244.1A2.4,2.4 0 0 0 509.0,248.9Z" fill="#838383"/>
<circle cx="517.0" cy="243.3" r="2.4" fill="#fff" stroke="#838383" stroke-width="0.7"/><path d="M517.0,240.9A2.4,2.4 0 0 0 517.0,245.7Z" fill="#838383"/>
<circle cx="524.8" cy="244.1" r="2.4" fill="#fff" stroke="#838383" stroke-width="0.7"/><path d="M524.8,241.7A2.4,2.4 0 0 0 524.8,246.5Z" fill="#838383"/>
<circle cx="532.9" cy="247.4" r="2.4" fill="#fff" stroke="#838383" stroke-width="0.7"/><path d="M532.9,245.0A2.4,2.4 0 0 0 532.9,249.8Z" fill="#838383"/>
<circle cx="540.5" cy="248.7" r="2.4" fill="#fff" stroke="#838383" stroke-width="0.7"/><path d="M540.5,246.3A2.4,2.4 0 0 0 540.5,251.1Z" fill="#838383"/>
<circle cx="548.1" cy="249.4" r="2.4" fill="#fff" stroke="#838383" stroke-width="0.7"/><path d="M548.1,247.0A2.4,2.4 0 0 0 548.1,251.8Z" fill="#838383"/>
<circle cx="556.1" cy="247.6" r="2.4" fill="#fff" stroke="#838383" stroke-width="0.7"/><path d="M556.1,245.2A2.4,2.4 0 0 0 556.1,250.0Z" fill="#838383"/>
<circle cx="563.7" cy="244.2" r="2.4" fill="#fff" stroke="#838383" stroke-width="0.7"/><path d="M563.7,241.8A2.4,2.4 0 0 0 563.7,246.6Z" fill="#838383"/>
<circle cx="571.4" cy="233.9" r="2.4" fill="#fff" stroke="#838383" stroke-width="0.7"/><path d="M571.4,231.5A2.4,2.4 0 0 0 571.4,236.3Z" fill="#838383"/>
<circle cx="579.2" cy="215.9" r="2.4" fill="#fff" stroke="#838383" stroke-width="0.7"/><path d="M579.2,213.5A2.4,2.4 0 0 0 579.2,218.3Z" fill="#838383"/>
<circle cx="587.0" cy="192.7" r="2.4" fill="#fff" stroke="#838383" stroke-width="0.7"/><path d="M587.0,190.3A2.4,2.4 0 0 0 587.0,195.1Z" fill="#838383"/>
<circle cx="594.3" cy="186.0" r="2.4" fill="#fff" stroke="#838383" stroke-width="0.7"/><path d="M594.3,183.6A2.4,2.4 0 0 0 594.3,188.4Z" fill="#838383"/>
<circle cx="601.6" cy="181.0" r="2.4" fill="#fff" stroke="#838383" stroke-width="0.7"/><path d="M601.6,178.6A2.4,2.4 0 0 0 601.6,183.4Z" fill="#838383"/>
<circle cx="609.1" cy="179.0" r="2.4" fill="#fff" stroke="#838383" stroke-width="0.7"/><path d="M609.1,176.6A2.4,2.4 0 0 0 609.1,181.4Z" fill="#838383"/>
<circle cx="616.6" cy="188.0" r="2.4" fill="#fff" stroke="#838383" stroke-width="0.7"/><path d="M616.6,185.6A2.4,2.4 0 0 0 616.6,190.4Z" fill="#838383"/>
<circle cx="624.6" cy="186.0" r="2.4" fill="#fff" stroke="#838383" stroke-width="0.7"/><path d="M624.6,183.6A2.4,2.4 0 0 0 624.6,188.4Z" fill="#838383"/>
<circle cx="632.5" cy="189.7" r="2.4" fill="#fff" stroke="#838383" stroke-width="0.7"/><path d="M632.5,187.3A2.4,2.4 0 0 0 632.5,192.1Z" fill="#838383"/>
<circle cx="639.9" cy="214.9" r="2.4" fill="#fff" stroke="#838383" stroke-width="0.7"/><path d="M639.9,212.5A2.4,2.4 0 0 0 639.9,217.3Z" fill="#838383"/>
<circle cx="648.0" cy="280.8" r="2.4" fill="#fff" stroke="#838383" stroke-width="0.7"/><path d="M648.0,278.4A2.4,2.4 0 0 0 648.0,283.2Z" fill="#838383"/>
<circle cx="655.4" cy="294.7" r="2.4" fill="#fff" stroke="#838383" stroke-width="0.7"/><path d="M655.4,292.3A2.4,2.4 0 0 0 655.4,297.1Z" fill="#838383"/>
<circle cx="662.8" cy="295.8" r="2.4" fill="#fff" stroke="#838383" stroke-width="0.7"/><path d="M662.8,293.4A2.4,2.4 0 0 0 662.8,298.2Z" fill="#838383"/>
<circle cx="670.7" cy="296.4" r="2.4" fill="#fff" stroke="#838383" stroke-width="0.7"/><path d="M670.7,294.0A2.4,2.4 0 0 0 670.7,298.8Z" fill="#838383"/>
<circle cx="677.6" cy="297.1" r="2.4" fill="#fff" stroke="#838383" stroke-width="0.7"/><path d="M677.6,294.7A2.4,2.4 0 0 0 677.6,299.5Z" fill="#838383"/>
<circle cx="472.3" cy="306.8" r="2.4" fill="#fff" stroke="#838383" stroke-width="0.7"/><path d="M472.3,304.4A2.4,2.4 0 0 0 472.3,309.2Z" fill="#838383"/>
<circle cx="478.7" cy="306.8" r="2.4" fill="#fff" stroke="#838383" stroke-width="0.7"/><path d="M478.7,304.4A2.4,2.4 0 0 0 478.7,309.2Z" fill="#838383"/>
<circle cx="485.9" cy="301.2" r="2.4" fill="#fff" stroke="#838383" stroke-width="0.7"/><path d="M485.9,298.8A2.4,2.4 0 0 0 485.9,303.6Z" fill="#838383"/>
<circle cx="493.9" cy="294.5" r="2.4" fill="#fff" stroke="#838383" stroke-width="0.7"/><path d="M493.9,292.1A2.4,2.4 0 0 0 493.9,296.9Z" fill="#838383"/>
<circle cx="501.5" cy="277.6" r="2.4" fill="#fff" stroke="#838383" stroke-width="0.7"/><path d="M501.5,275.2A2.4,2.4 0 0 0 501.5,280.0Z" fill="#838383"/>
<circle cx="509.0" cy="251.3" r="2.4" fill="#fff" stroke="#838383" stroke-width="0.7"/><path d="M509.0,248.9A2.4,2.4 0 0 0 509.0,253.7Z" fill="#838383"/>
<circle cx="517.0" cy="244.6" r="2.4" fill="#fff" stroke="#838383" stroke-width="0.7"/><path d="M517.0,242.2A2.4,2.4 0 0 0 517.0,247.0Z" fill="#838383"/>
<circle cx="524.8" cy="245.5" r="2.4" fill="#fff" stroke="#838383" stroke-width="0.7"/><path d="M524.8,243.1A2.4,2.4 0 0 0 524.8,247.9Z" fill="#838383"/>
<circle cx="532.9" cy="248.3" r="2.4" fill="#fff" stroke="#838383" stroke-width="0.7"/><path d="M532.9,245.9A2.4,2.4 0 0 0 532.9,250.7Z" fill="#838383"/>
<circle cx="540.5" cy="249.4" r="2.4" fill="#fff" stroke="#838383" stroke-width="0.7"/><path d="M540.5,247.0A2.4,2.4 0 0 0 540.5,251.8Z" fill="#838383"/>
<circle cx="548.1" cy="250.2" r="2.4" fill="#fff" stroke="#838383" stroke-width="0.7"/><path d="M548.1,247.8A2.4,2.4 0 0 0 548.1,252.6Z" fill="#838383"/>
<circle cx="556.1" cy="248.3" r="2.4" fill="#fff" stroke="#838383" stroke-width="0.7"/><path d="M556.1,245.9A2.4,2.4 0 0 0 556.1,250.7Z" fill="#838383"/>
<circle cx="563.7" cy="246.8" r="2.4" fill="#fff" stroke="#838383" stroke-width="0.7"/><path d="M563.7,244.4A2.4,2.4 0 0 0 563.7,249.2Z" fill="#838383"/>
<circle cx="571.4" cy="237.8" r="2.4" fill="#fff" stroke="#838383" stroke-width="0.7"/><path d="M571.4,235.4A2.4,2.4 0 0 0 571.4,240.2Z" fill="#838383"/>
<circle cx="579.2" cy="221.8" r="2.4" fill="#fff" stroke="#838383" stroke-width="0.7"/><path d="M579.2,219.4A2.4,2.4 0 0 0 579.2,224.2Z" fill="#838383"/>
<circle cx="587.0" cy="197.9" r="2.4" fill="#fff" stroke="#838383" stroke-width="0.7"/><path d="M587.0,195.5A2.4,2.4 0 0 0 587.0,200.3Z" fill="#838383"/>
<circle cx="594.3" cy="188.6" r="2.4" fill="#fff" stroke="#838383" stroke-width="0.7"/><path d="M594.3,186.2A2.4,2.4 0 0 0 594.3,191.0Z" fill="#838383"/>
<circle cx="601.6" cy="187.3" r="2.4" fill="#fff" stroke="#838383" stroke-width="0.7"/><path d="M601.6,184.9A2.4,2.4 0 0 0 601.6,189.7Z" fill="#838383"/>
<circle cx="609.1" cy="183.4" r="2.4" fill="#fff" stroke="#838383" stroke-width="0.7"/><path d="M609.1,181.0A2.4,2.4 0 0 0 609.1,185.8Z" fill="#838383"/>
<circle cx="616.6" cy="197.1" r="2.4" fill="#fff" stroke="#838383" stroke-width="0.7"/><path d="M616.6,194.7A2.4,2.4 0 0 0 616.6,199.5Z" fill="#838383"/>
<circle cx="624.6" cy="198.1" r="2.4" fill="#fff" stroke="#838383" stroke-width="0.7"/><path d="M624.6,195.7A2.4,2.4 0 0 0 624.6,200.5Z" fill="#838383"/>
<circle cx="632.5" cy="231.1" r="2.4" fill="#fff" stroke="#838383" stroke-width="0.7"/><path d="M632.5,228.7A2.4,2.4 0 0 0 632.5,233.5Z" fill="#838383"/>
<circle cx="639.9" cy="282.6" r="2.4" fill="#fff" stroke="#838383" stroke-width="0.7"/><path d="M639.9,280.2A2.4,2.4 0 0 0 639.9,285.0Z" fill="#838383"/>
<circle cx="648.0" cy="289.9" r="2.4" fill="#fff" stroke="#838383" stroke-width="0.7"/><path d="M648.0,287.5A2.4,2.4 0 0 0 648.0,292.3Z" fill="#838383"/>
<circle cx="655.4" cy="296.6" r="2.4" fill="#fff" stroke="#838383" stroke-width="0.7"/><path d="M655.4,294.2A2.4,2.4 0 0 0 655.4,299.0Z" fill="#838383"/>
<circle cx="662.8" cy="301.4" r="2.4" fill="#fff" stroke="#838383" stroke-width="0.7"/><path d="M662.8,299.0A2.4,2.4 0 0 0 662.8,303.8Z" fill="#838383"/>
<circle cx="670.7" cy="304.9" r="2.4" fill="#fff" stroke="#838383" stroke-width="0.7"/><path d="M670.7,302.5A2.4,2.4 0 0 0 670.7,307.3Z" fill="#838383"/>
<circle cx="472.3" cy="306.8" r="2.4" fill="#fff" stroke="#838383" stroke-width="0.7"/><path d="M472.3,304.4A2.4,2.4 0 0 0 472.3,309.2Z" fill="#838383"/>
<circle cx="478.7" cy="304.9" r="2.4" fill="#fff" stroke="#838383" stroke-width="0.7"/><path d="M478.7,302.5A2.4,2.4 0 0 0 478.7,307.3Z" fill="#838383"/>
<circle cx="485.9" cy="299.7" r="2.4" fill="#fff" stroke="#838383" stroke-width="0.7"/><path d="M485.9,297.3A2.4,2.4 0 0 0 485.9,302.1Z" fill="#838383"/>
<circle cx="493.9" cy="291.9" r="2.4" fill="#fff" stroke="#838383" stroke-width="0.7"/><path d="M493.9,289.5A2.4,2.4 0 0 0 493.9,294.3Z" fill="#838383"/>
<circle cx="501.5" cy="274.3" r="2.4" fill="#fff" stroke="#838383" stroke-width="0.7"/><path d="M501.5,271.9A2.4,2.4 0 0 0 501.5,276.7Z" fill="#838383"/>
<circle cx="509.0" cy="249.3" r="2.4" fill="#fff" stroke="#838383" stroke-width="0.7"/><path d="M509.0,246.9A2.4,2.4 0 0 0 509.0,251.7Z" fill="#838383"/>
<circle cx="517.0" cy="244.1" r="2.4" fill="#fff" stroke="#838383" stroke-width="0.7"/><path d="M517.0,241.7A2.4,2.4 0 0 0 517.0,246.5Z" fill="#838383"/>
<circle cx="524.8" cy="244.6" r="2.4" fill="#fff" stroke="#838383" stroke-width="0.7"/><path d="M524.8,242.2A2.4,2.4 0 0 0 524.8,247.0Z" fill="#838383"/>
<circle cx="532.9" cy="248.0" r="2.4" fill="#fff" stroke="#838383" stroke-width="0.7"/><path d="M532.9,245.6A2.4,2.4 0 0 0 532.9,250.4Z" fill="#838383"/>
<circle cx="540.5" cy="249.1" r="2.4" fill="#fff" stroke="#838383" stroke-width="0.7"/><path d="M540.5,246.7A2.4,2.4 0 0 0 540.5,251.5Z" fill="#838383"/>
<circle cx="548.1" cy="249.8" r="2.4" fill="#fff" stroke="#838383" stroke-width="0.7"/><path d="M548.1,247.4A2.4,2.4 0 0 0 548.1,252.2Z" fill="#838383"/>
<circle cx="556.1" cy="248.0" r="2.4" fill="#fff" stroke="#838383" stroke-width="0.7"/><path d="M556.1,245.6A2.4,2.4 0 0 0 556.1,250.4Z" fill="#838383"/>
<circle cx="563.7" cy="245.5" r="2.4" fill="#fff" stroke="#838383" stroke-width="0.7"/><path d="M563.7,243.1A2.4,2.4 0 0 0 563.7,247.9Z" fill="#838383"/>
<circle cx="571.4" cy="235.9" r="2.4" fill="#fff" stroke="#838383" stroke-width="0.7"/><path d="M571.4,233.5A2.4,2.4 0 0 0 571.4,238.3Z" fill="#838383"/>
<circle cx="579.2" cy="218.6" r="2.4" fill="#fff" stroke="#838383" stroke-width="0.7"/><path d="M579.2,216.2A2.4,2.4 0 0 0 579.2,221.0Z" fill="#838383"/>
<circle cx="587.0" cy="195.5" r="2.4" fill="#fff" stroke="#838383" stroke-width="0.7"/><path d="M587.0,193.1A2.4,2.4 0 0 0 587.0,197.9Z" fill="#838383"/>
<circle cx="594.3" cy="187.5" r="2.4" fill="#fff" stroke="#838383" stroke-width="0.7"/><path d="M594.3,185.1A2.4,2.4 0 0 0 594.3,189.9Z" fill="#838383"/>
<circle cx="601.6" cy="184.3" r="2.4" fill="#fff" stroke="#838383" stroke-width="0.7"/><path d="M601.6,181.9A2.4,2.4 0 0 0 601.6,186.7Z" fill="#838383"/>
<circle cx="609.1" cy="181.6" r="2.4" fill="#fff" stroke="#838383" stroke-width="0.7"/><path d="M609.1,179.2A2.4,2.4 0 0 0 609.1,184.0Z" fill="#838383"/>
<circle cx="616.6" cy="189.0" r="2.4" fill="#fff" stroke="#838383" stroke-width="0.7"/><path d="M616.6,186.6A2.4,2.4 0 0 0 616.6,191.4Z" fill="#838383"/>
<circle cx="624.6" cy="187.3" r="2.4" fill="#fff" stroke="#838383" stroke-width="0.7"/><path d="M624.6,184.9A2.4,2.4 0 0 0 624.6,189.7Z" fill="#838383"/>
<circle cx="632.5" cy="189.7" r="2.4" fill="#fff" stroke="#838383" stroke-width="0.7"/><path d="M632.5,187.3A2.4,2.4 0 0 0 632.5,192.1Z" fill="#838383"/>
<circle cx="639.9" cy="226.6" r="2.4" fill="#fff" stroke="#838383" stroke-width="0.7"/><path d="M639.9,224.2A2.4,2.4 0 0 0 639.9,229.0Z" fill="#838383"/>
<circle cx="648.0" cy="292.8" r="2.4" fill="#fff" stroke="#838383" stroke-width="0.7"/><path d="M648.0,290.4A2.4,2.4 0 0 0 648.0,295.2Z" fill="#838383"/>
<circle cx="655.4" cy="295.6" r="2.4" fill="#fff" stroke="#838383" stroke-width="0.7"/><path d="M655.4,293.2A2.4,2.4 0 0 0 655.4,298.0Z" fill="#838383"/>
<circle cx="662.8" cy="298.4" r="2.4" fill="#fff" stroke="#838383" stroke-width="0.7"/><path d="M662.8,296.0A2.4,2.4 0 0 0 662.8,300.8Z" fill="#838383"/>
<circle cx="670.7" cy="296.4" r="2.4" fill="#fff" stroke="#838383" stroke-width="0.7"/><path d="M670.7,294.0A2.4,2.4 0 0 0 670.7,298.8Z" fill="#838383"/>
<circle cx="677.6" cy="297.1" r="2.4" fill="#fff" stroke="#838383" stroke-width="0.7"/><path d="M677.6,294.7A2.4,2.4 0 0 0 677.6,299.5Z" fill="#838383"/>
</g>
<line x1="34" y1="13.5" x2="680.2" y2="13.5" stroke="#222" stroke-width="1.2"/>
<line x1="34" y1="163" x2="679.5" y2="163" stroke="#666" stroke-width="1.4"/>
<line x1="36" y1="311.4" x2="680.2" y2="311.4" stroke="#333" stroke-width="1.3"/>
<line x1="36.8" y1="12.9" x2="36.8" y2="312" stroke="#444" stroke-width="1.7"/>
<line x1="250.8" y1="12.9" x2="250.8" y2="312" stroke="#444" stroke-width="1.7"/>
<line x1="465.6" y1="12.9" x2="465.6" y2="312" stroke="#444" stroke-width="1.7"/>
<line x1="679.3" y1="12.9" x2="679.3" y2="312" stroke="#333" stroke-width="1.1"/>
<line x1="34" y1="13.5" x2="36.8" y2="13.5" stroke="#444" stroke-width="1"/>
<line x1="34" y1="50.9" x2="36.8" y2="50.9" stroke="#444" stroke-width="1"/>
<line x1="34" y1="88.2" x2="36.8" y2="88.2" stroke="#444" stroke-width="1"/>
<line x1="34" y1="125.6" x2="36.8" y2="125.6" stroke="#444" stroke-width="1"/>
<line x1="34" y1="163.0" x2="36.8" y2="163.0" stroke="#444" stroke-width="1"/>
<line x1="34" y1="200.1" x2="36.8" y2="200.1" stroke="#444" stroke-width="1"/>
<line x1="34" y1="237.2" x2="36.8" y2="237.2" stroke="#444" stroke-width="1"/>
<line x1="34" y1="274.3" x2="36.8" y2="274.3" stroke="#444" stroke-width="1"/>
<line x1="34" y1="311.4" x2="36.8" y2="311.4" stroke="#444" stroke-width="1"/>
<line x1="36.8" y1="311.4" x2="36.8" y2="314" stroke="#444" stroke-width="1"/>
<line x1="67.4" y1="311.4" x2="67.4" y2="314" stroke="#444" stroke-width="1"/>
<line x1="97.9" y1="311.4" x2="97.9" y2="314" stroke="#444" stroke-width="1"/>
<line x1="128.5" y1="311.4" x2="128.5" y2="314" stroke="#444" stroke-width="1"/>
<line x1="159.1" y1="311.4" x2="159.1" y2="314" stroke="#444" stroke-width="1"/>
<line x1="189.7" y1="311.4" x2="189.7" y2="314" stroke="#444" stroke-width="1"/>
<line x1="220.2" y1="311.4" x2="220.2" y2="314" stroke="#444" stroke-width="1"/>
<line x1="250.8" y1="311.4" x2="250.8" y2="314" stroke="#444" stroke-width="1"/>
<line x1="281.4" y1="311.4" x2="281.4" y2="314" stroke="#444" stroke-width="1"/>
<line x1="311.9" y1="311.4" x2="311.9" y2="314" stroke="#444" stroke-width="1"/>
<line x1="342.5" y1="311.4" x2="342.5" y2="314" stroke="#444" stroke-width="1"/>
<line x1="373.1" y1="311.4" x2="373.1" y2="314" stroke="#444" stroke-width="1"/>
<line x1="403.7" y1="311.4" x2="403.7" y2="314" stroke="#444" stroke-width="1"/>
<line x1="434.2" y1="311.4" x2="434.2" y2="314" stroke="#444" stroke-width="1"/>
<line x1="465.6" y1="311.4" x2="465.6" y2="314" stroke="#444" stroke-width="1"/>
<line x1="496.2" y1="311.4" x2="496.2" y2="314" stroke="#444" stroke-width="1"/>
<line x1="526.7" y1="311.4" x2="526.7" y2="314" stroke="#444" stroke-width="1"/>
<line x1="557.3" y1="311.4" x2="557.3" y2="314" stroke="#444" stroke-width="1"/>
<line x1="587.9" y1="311.4" x2="587.9" y2="314" stroke="#444" stroke-width="1"/>
<line x1="618.5" y1="311.4" x2="618.5" y2="314" stroke="#444" stroke-width="1"/>
<line x1="649.0" y1="311.4" x2="649.0" y2="314" stroke="#444" stroke-width="1"/>
<line x1="679.6" y1="311.4" x2="679.6" y2="314" stroke="#444" stroke-width="1"/>
<g font-family="Liberation Sans, sans-serif" font-size="9.8" fill="#1a1a1a"><text x="32.3" y="15.4" text-anchor="end">80</text><text x="32.3" y="52.8" text-anchor="end">60</text><text x="32.3" y="90.2" text-anchor="end">40</text><text x="32.3" y="127.5" text-anchor="end">20</text><text x="32.3" y="164.9" text-anchor="end">0</text><text x="32.3" y="202.0" text-anchor="end">60</text><text x="32.3" y="239.1" text-anchor="end">40</text><text x="32.3" y="276.2" text-anchor="end">20</text><text x="32.3" y="313.3" text-anchor="end">0</text><text x="36.8" y="323.5" text-anchor="middle">0</text><text x="67.4" y="323.5" text-anchor="middle">2</text><text x="97.9" y="323.5" text-anchor="middle">4</text><text x="128.5" y="323.5" text-anchor="middle">6</text><text x="159.1" y="323.5" text-anchor="middle">8</text><text x="189.7" y="323.5" text-anchor="middle">10</text><text x="220.2" y="323.5" text-anchor="middle">12</text><text x="250.8" y="323.5" text-anchor="middle">0</text><text x="281.4" y="323.5" text-anchor="middle">2</text><text x="311.9" y="323.5" text-anchor="middle">4</text><text x="342.5" y="323.5" text-anchor="middle">6</text><text x="373.1" y="323.5" text-anchor="middle">8</text><text x="403.7" y="323.5" text-anchor="middle">10</text><text x="434.2" y="323.5" text-anchor="middle">12</text><text x="465.6" y="323.5" text-anchor="middle">0</text><text x="496.2" y="323.5" text-anchor="middle">2</text><text x="526.7" y="323.5" text-anchor="middle">4</text><text x="557.3" y="323.5" text-anchor="middle">6</text><text x="587.9" y="323.5" text-anchor="middle">8</text><text x="618.5" y="323.5" text-anchor="middle">10</text><text x="649.0" y="323.5" text-anchor="middle">12</text><text x="679.6" y="323.5" text-anchor="middle">14</text></g>
<g font-family="Liberation Sans, sans-serif" font-size="11.5" fill="#111"><text x="141.5" y="9.3" text-anchor="middle">TB+lactose_DSM</text><text x="360.2" y="9.3" text-anchor="middle">TB+lactose_Roth_3</text><text x="568.2" y="9.3" text-anchor="middle">OnEx_2</text></g>
<g font-family="Liberation Sans, sans-serif" font-size="15" fill="#111"><text x="39.8" y="30.0">A</text><text x="253.9" y="30.0">B</text><text x="468.7" y="30.0">C</text><text x="39.8" y="179.2">D</text><text x="253.9" y="179.2">E</text><text x="468.7" y="179.2">F</text></g>
<text x="305.5" y="345.4" font-family="Liberation Sans, sans-serif" font-weight="bold" font-size="12" fill="#111">Cultivation time&#160;&#160;&#160;[h]</text>
<text transform="translate(10.6,254.9) rotate(-90)" font-family="Liberation Sans, sans-serif" font-weight="bold" font-size="12" fill="#111">Oxygen transfer rate</text>
<text transform="translate(10.6,129.2) rotate(-90)" font-family="Liberation Sans, sans-serif" font-weight="bold" font-size="12" fill="#111">[mmol/L/h]</text>
</svg>
</body></html>
